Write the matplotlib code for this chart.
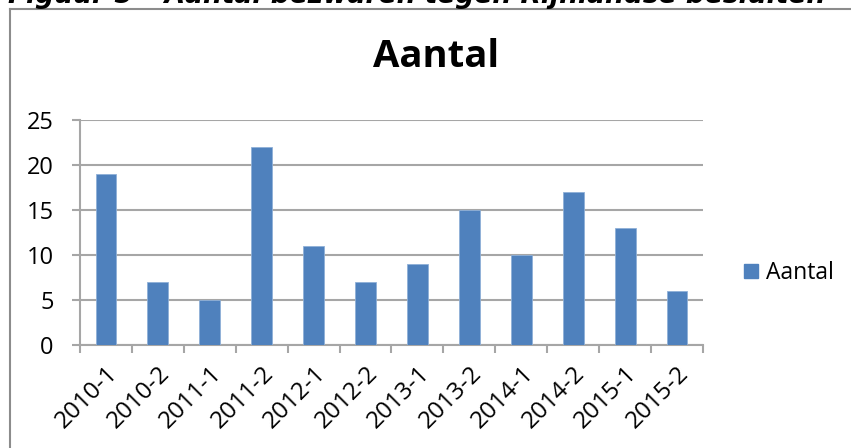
import matplotlib
matplotlib.use("Agg")
import matplotlib.pyplot as plt
from matplotlib.lines import Line2D
from matplotlib.patches import Patch
import numpy as np

categories = ["2010-1", "2010-2", "2011-1", "2011-2", "2012-1", "2012-2",
              "2013-1", "2013-2", "2014-1", "2014-2", "2015-1", "2015-2"]
values = [19, 7, 5, 22, 11, 7, 9, 15, 10, 17, 13, 6]
series_name = "Aantal"
chart_title = "Aantal"
caption = "Figuur 5 \u2013 Aantal bezwaren tegen Rijnlandse besluiten"
yticks = [0, 5, 10, 15, 20, 25]

W, H = 851, 448
fig = plt.figure(figsize=(W / 100, H / 100), dpi=100)
fig.patch.set_facecolor("white")

def fx(px):
    return px / W

def fy(py):
    return 1 - py / H

FONT = "Open Sans"
GRID = "#A6A6A6"
BAR = "#4F81BD"

ax = fig.add_axes([fx(80), fy(345), fx(703) - fx(80), fy(120) - fy(345)])
x = np.arange(len(categories))
ax.bar(x, values, width=0.4, color=BAR, edgecolor="#8FB0D8", linewidth=0.6, zorder=3)
ax.set_xlim(-0.5, len(categories) - 0.5)
ax.set_ylim(0, 25)
ax.set_yticks(yticks)
ax.set_yticklabels([str(v) for v in yticks], fontfamily=FONT, fontsize=17)
ax.yaxis.grid(True, color=GRID, linewidth=1.5, zorder=0)
ax.tick_params(axis="y", length=6, width=1.5, color=GRID, pad=13)

ax.set_xticks(x)
ax.set_xticklabels(categories, fontfamily=FONT, fontsize=17.5, rotation=45,
                   ha="right", rotation_mode="anchor")
ax.tick_params(axis="x", which="major", length=0, pad=12)
ax.set_xticks(np.arange(-0.5, len(categories), 1.0), minor=True)
ax.tick_params(axis="x", which="minor", length=6, width=1.5, color=GRID)

for s in ["top", "right"]:
    ax.spines[s].set_visible(False)
for s in ["left", "bottom"]:
    ax.spines[s].set_color(GRID)
    ax.spines[s].set_linewidth(1.5)

# chart title
fig.text(fx(436), fy(67), chart_title, ha="center", va="baseline",
         fontfamily=FONT, fontweight="bold", fontsize=27.5)

# legend
ax.legend(handles=[Patch(facecolor=BAR, edgecolor=BAR, label=series_name)],
          loc="center left", bbox_to_anchor=(fx(744), fy(273)),
          bbox_transform=fig.transFigure, frameon=False,
          prop={"family": FONT, "size": 16.5}, handlelength=0.62,
          handleheight=0.62, handletextpad=0.35, borderpad=0, borderaxespad=0)

# outer chart frame (partially visible)
fig.add_artist(Line2D([fx(10), fx(10)], [fy(9), 0], color="#8C8C8C", linewidth=1.5))
fig.add_artist(Line2D([fx(10), 1], [fy(9), fy(9)], color="#8C8C8C", linewidth=1.5))

# clipped caption at top
cap = fig.text(fx(8), fy(3), caption, ha="left", va="baseline",
               fontfamily="DejaVu Sans", fontweight="bold", fontstyle="italic",
               fontsize=16)
fig.canvas.draw()
bb = cap.get_window_extent()
target = 817
cap.set_fontsize(16 * target / bb.width)

fig.savefig("out.png", dpi=100)
